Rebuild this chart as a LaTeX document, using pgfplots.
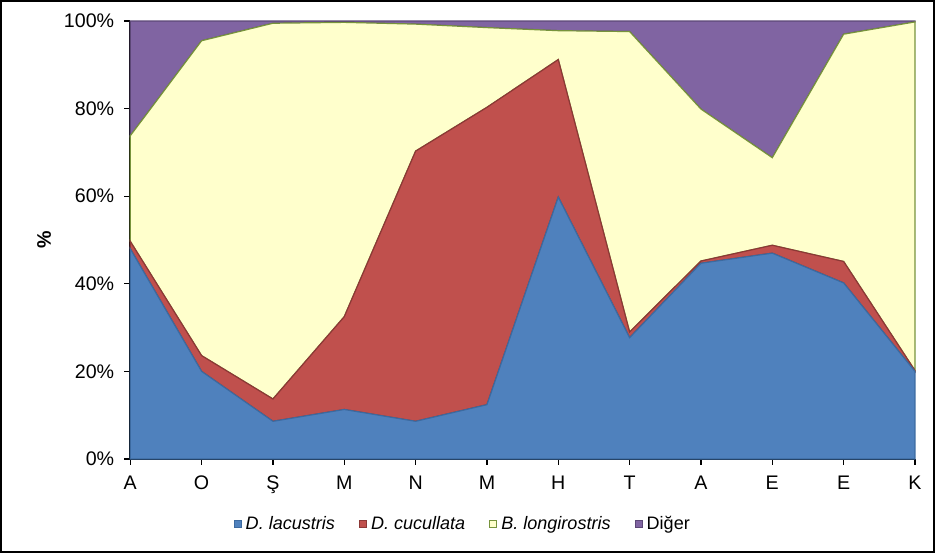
\documentclass[border=0pt]{standalone}
\usepackage{fontspec}
\setmainfont{Liberation Sans}
\usepackage{pgfplots}
\pgfplotsset{compat=1.18}
\definecolor{cblue}{HTML}{4F81BD}
\definecolor{cblueE}{HTML}{3C6AA0}
\definecolor{cred}{HTML}{C0504D}
\definecolor{credE}{HTML}{8C3836}
\definecolor{cyel}{HTML}{FFFFCC}
\definecolor{cyelE}{HTML}{77933C}
\definecolor{cpur}{HTML}{8064A2}
\definecolor{cpurE}{HTML}{5C4776}
\begin{document}
\begin{tikzpicture}
\begin{axis}[
  scale only axis,
  width=391.5pt, height=218.5pt,
  xmin=0, xmax=11, ymin=0, ymax=100,
  stack plots=y,
  axis lines*=left,
  axis line style={black, line width=0.8pt},
  tick style={black, line width=0.6pt},
  tick align=outside,
  major tick length=3pt,
  xtick={0,...,11},
  xticklabels={A,O,Ş,M,N,M,H,T,A,E,E,K},
  ytick={0,20,40,60,80,100},
  yticklabel={\pgfmathprintnumber{\tick}\%},
  /pgf/number format/assume math mode=true,
  tick label style={font=\fontsize{9.8}{12}\selectfont},
  yticklabel style={xshift=-1.5pt},
  xticklabel style={yshift=-2pt},
  ylabel={\bfseries\%},
  ylabel style={at={(axis description cs:0,0.5)}, anchor=center, yshift=43pt, font=\fontsize{9.8}{12}\selectfont},
  legend columns=4,
  legend style={draw=none, fill=none, at={(axis description cs:0.425,-0.149)}, anchor=center,
    font=\fontsize{9}{11}\selectfont,
    /tikz/every even column/.append style={column sep=10pt}},
  legend image code/.code={\draw[#1, line width=0.5pt] (0pt,-1.75pt) rectangle (3.5pt,1.75pt);},
  clip=false,
]
\addplot[fill=cblue, draw=cblueE, line width=0.6pt] coordinates {
(0,48.0) (1,20.0) (2,8.6) (3,11.3) (4,8.6) (5,12.4) (6,59.8) (7,27.7) (8,44.7) (9,47.0) (10,40.2) (11,20.0)} \closedcycle;
\addlegendentry{\textit{D. lacustris}}
\addplot[fill=cred, draw=credE, line width=0.6pt] coordinates {
(0,1.7) (1,3.6) (2,5.1) (3,21.2) (4,61.7) (5,67.9) (6,31.4) (7,1.3) (8,0.5) (9,1.8) (10,4.9) (11,0.2)} \closedcycle;
\addlegendentry{\textit{D. cucullata}}
\addplot[fill=cyel, draw=cyelE, line width=0.6pt] coordinates {
(0,24.1) (1,71.9) (2,85.8) (3,67.2) (4,29.0) (5,18.2) (6,6.6) (7,68.6) (8,34.7) (9,20.0) (10,51.9) (11,79.6)} \closedcycle;
\addlegendentry{\textit{B. longirostris}}
\addplot[fill=cpur, draw=cpurE, line width=0.6pt] coordinates {
(0,26.2) (1,4.5) (2,0.5) (3,0.3) (4,0.7) (5,1.5) (6,2.2) (7,2.4) (8,20.1) (9,31.2) (10,3.0) (11,0.2)} \closedcycle;
\addlegendentry{Diğer}
\coordinate (sw) at (rel axis cs:0,0);
\coordinate (ne) at (rel axis cs:1,1);
\end{axis}
\draw[black, line width=1pt] ([xshift=-64.5pt,yshift=-46.5pt]sw) rectangle ([xshift=9.5pt,yshift=10pt]ne);
\end{tikzpicture}
\end{document}
